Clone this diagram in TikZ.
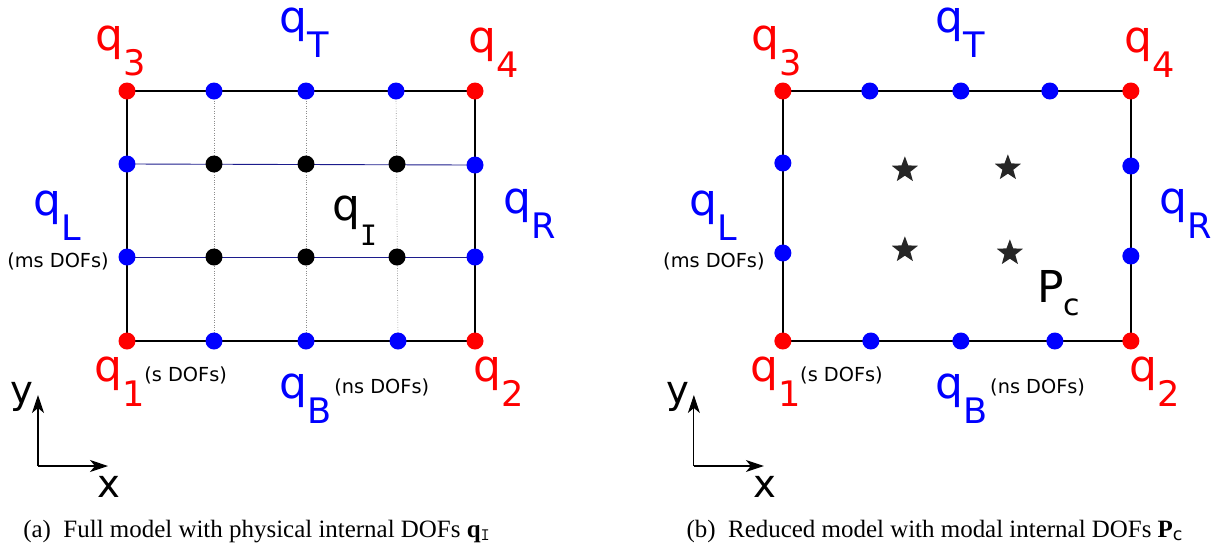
\documentclass[tikz,border=0pt]{standalone}
\usepackage{fontspec}
\setmainfont{Liberation Serif}
\setsansfont{DejaVu Sans}
\newfontfamily\dofmono{DejaVu Sans Mono}
\usepackage{tikz}
\usetikzlibrary{arrows.meta,positioning,backgrounds,shapes.geometric}
\definecolor{dofred}{HTML}{FF0000}
\definecolor{dofblue}{HTML}{0000FF}
\definecolor{meshblue}{HTML}{1C1C8C}
\tikzset{
  dof/.style={circle, fill=#1, inner sep=0pt, minimum size=0.34cm},
  dof/.default=black,
  dofc/.style={dof=dofred},
  dofb/.style={dof=dofblue},
  dofi/.style={dof=black},
  modal/.style={star, star points=5, star point ratio=2.4, fill=black!85,
    inner sep=0pt, minimum size=0.55cm},
  edgeline/.style={line width=1.1pt, draw=black},
  meshh/.style={line width=0.5pt, draw=meshblue},
  meshv/.style={line width=0.4pt, draw=black!45, densely dotted},
  lbl/.style={font=\sffamily\fontsize{25}{25}\selectfont, inner sep=0pt, anchor=base west},
  axlbl/.style={font=\sffamily\fontsize{22}{22}\selectfont, inner sep=0pt, anchor=base west},
  tag/.style={font=\sffamily\fontsize{11}{13}\selectfont, inner sep=0pt, anchor=base west},
  axarrow/.style={-{Stealth[length=3.6mm,width=2.4mm,inset=1mm]}, line width=0.6pt},
  capt/.style={font=\fontsize{14.2}{16}\selectfont, inner sep=0pt, anchor=base},
}
\newcommand{\dsub}[1]{\raisebox{-0.58em}{\fontsize{20}{20}\selectfont #1}}

\begin{document}
\begin{tikzpicture}[x=0.02cm, y=-0.02cm]
    \useasboundingbox (0,0) rectangle (1228,552);

    % (a) full model
    \node[dofc] (a-c1) at (127,341) {};
    \node[dofc] (a-c2) at (475,341) {};
    \node[dofc] (a-c3) at (127,91) {};
    \node[dofc] (a-c4) at (475,91) {};
    \node[dofb] (a-t1) at (214,91) {};
    \node[dofb] (a-t2) at (306,91) {};
    \node[dofb] (a-t3) at (396,91) {};
    \node[dofb] (a-b1) at (214,341) {};
    \node[dofb] (a-b2) at (306,341) {};
    \node[dofb] (a-b3) at (398,341) {};
    \node[dofb] (a-l1) at (127,164) {};
    \node[dofb] (a-l2) at (127,257) {};
    \node[dofb] (a-r1) at (475,165) {};
    \node[dofb] (a-r2) at (475,257) {};
    \node[dofi] (a-i11) at (214,164) {};
    \node[dofi] (a-i12) at (306,164) {};
    \node[dofi] (a-i13) at (397,164) {};
    \node[dofi] (a-i21) at (214,257) {};
    \node[dofi] (a-i22) at (306,257) {};
    \node[dofi] (a-i23) at (397,257) {};

    \begin{scope}[on background layer]
      \draw[meshv] (a-t1.center) -- (a-b1.center);
      \draw[meshv] (a-t2.center) -- (a-b2.center);
      \draw[meshv] (a-t3.center) -- (a-b3.center);
      \draw[meshh] (a-l1.center) -- (a-r1.center);
      \draw[meshh] (a-l2.center) -- (a-r2.center);
      \draw[edgeline] (a-c1.center) -- (a-c2.center) -- (a-c4.center)
        -- (a-c3.center) -- cycle;
    \end{scope}

    \node[lbl, text=dofred] (a-q3) at (95,50) {q\dsub{3}};
    \node[lbl, text=dofblue] (a-qT) at (279,32) {q\dsub{T}};
    \node[lbl, text=dofred] (a-q4) at (468,52) {q\dsub{4}};
    \node[lbl, text=dofblue] (a-qL) at (33,215) {q\dsub{L}};
    \node[tag] (a-ms) at (7,267) {(ms DOFs)};
    \node[lbl] (a-qI) at (332,220) {q\dsub{\dofmono\fontsize{16}{16}\selectfont I}};
    \node[lbl, text=dofblue] (a-qR) at (503,213) {q\dsub{R}};
    \node[lbl, text=dofred] (a-q1) at (94,381) {q\dsub{1}};
    \node[tag] (a-s) at (144,381) {(s DOFs)};
    \node[lbl, text=dofblue] (a-qB) at (279,398) {q\dsub{B}};
    \node[tag] (a-ns) at (334,393) {(ns DOFs)};
    \node[lbl, text=dofred] (a-q2) at (473,381) {q\dsub{2}};

    \coordinate (a-o) at (38,466);
    \coordinate (a-y) at (38,395);
    \coordinate (a-x) at (108,466);
    \draw[axarrow] (a-o) -- (a-y);
    \draw[axarrow] (a-o) -- (a-x);
    \node[axlbl] (a-ylab) at (10,403) {y};
    \node[axlbl] (a-xlab) at (97,497) {x};

    \node[capt] (a-cap) at (257,537)
      {(a)\enspace Full model with physical internal DOFs \textbf{q}\textsubscript{\texttt{I}}};

    % (b) reduced model
    \begin{scope}[xshift=13.12cm]
      \node[dofc] (b-c1) at (127,341) {};
      \node[dofc] (b-c2) at (475,341) {};
      \node[dofc] (b-c3) at (127,91) {};
      \node[dofc] (b-c4) at (475,91) {};
      \node[dofb] (b-t1) at (214,91) {};
      \node[dofb] (b-t2) at (305,91) {};
      \node[dofb] (b-t3) at (394,91) {};
      \node[dofb] (b-b1) at (215,341) {};
      \node[dofb] (b-b2) at (305,341) {};
      \node[dofb] (b-b3) at (399,341) {};
      \node[dofb] (b-l1) at (127,163) {};
      \node[dofb] (b-l2) at (127,253) {};
      \node[dofb] (b-r1) at (475,166) {};
      \node[dofb] (b-r2) at (475,256) {};

      \begin{scope}[on background layer]
        \draw[edgeline] (b-c1.center) -- (b-c2.center) -- (b-c4.center)
          -- (b-c3.center) -- cycle;
      \end{scope}

      \node[modal] (b-m11) at (249,170) {};
      \node[modal] (b-m12) at (352,168) {};
      \node[modal] (b-m21) at (249,250) {};
      \node[modal] (b-m22) at (354,253) {};
      \node[lbl] (b-Pc) at (381,302) {P\raisebox{-0.3em}{\fontsize{17}{17}\selectfont c}};

      \node[lbl, text=dofred] (b-q3) at (95,50) {q\dsub{3}};
      \node[lbl, text=dofblue] (b-qT) at (279,32) {q\dsub{T}};
      \node[lbl, text=dofred] (b-q4) at (468,52) {q\dsub{4}};
      \node[lbl, text=dofblue] (b-qL) at (33,215) {q\dsub{L}};
      \node[tag] (b-ms) at (7,267) {(ms DOFs)};
      \node[lbl, text=dofblue] (b-qR) at (503,213) {q\dsub{R}};
      \node[lbl, text=dofred] (b-q1) at (94,381) {q\dsub{1}};
      \node[tag] (b-s) at (144,381) {(s DOFs)};
      \node[lbl, text=dofblue] (b-qB) at (279,398) {q\dsub{B}};
      \node[tag] (b-ns) at (334,393) {(ns DOFs)};
      \node[lbl, text=dofred] (b-q2) at (473,381) {q\dsub{2}};

      \coordinate (b-o) at (38,466);
      \coordinate (b-y) at (38,395);
      \coordinate (b-x) at (108,466);
      \draw[axarrow] (b-o) -- (b-y);
      \draw[axarrow] (b-o) -- (b-x);
      \node[axlbl] (b-ylab) at (10,403) {y};
      \node[axlbl] (b-xlab) at (97,497) {x};
    \end{scope}

    \node[capt] (b-cap) at (935,537)
      {(b)\enspace Reduced model with modal internal DOFs \textbf{P}\textsubscript{\sffamily c}};
  \end{tikzpicture}
\end{document}
